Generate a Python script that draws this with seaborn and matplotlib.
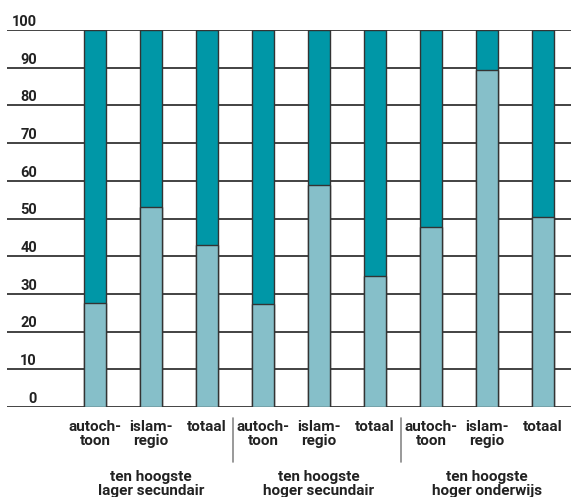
import matplotlib
matplotlib.use("Agg")
import matplotlib.pyplot as plt
import seaborn as sns
import pandas as pd
from matplotlib import font_manager as fm
from matplotlib.transforms import blended_transform_factory

categories = ["autoch-\ntoon", "islam-\nregio", "totaal"] * 3
groups = ["ten hoogste\nlager secundair", "ten hoogste\nhoger secundair", "ten hoogste\nhoger onderwijs"]
light_values = [27.5, 53.0, 43.0, 27.3, 58.9, 34.7, 47.7, 89.4, 50.4]
total_values = [100] * 9
yticks = [0, 10, 20, 30, 40, 50, 60, 70, 80, 90, 100]

DARK = "#0097A7"
LIGHT = "#86BFC9"

sns.set_style("white")
names = {f.name for f in fm.fontManager.ttflist}
fam = "Liberation Sans Narrow" if "Liberation Sans Narrow" in names else "Roboto"
plt.rcParams["font.family"] = [fam, "DejaVu Sans"]
plt.rcParams["font.weight"] = "bold"

fig = plt.figure(figsize=(5.71, 4.97), dpi=100)
ax = fig.add_axes([7 / 571, 1 - 407 / 497, 1 - 7 / 571, (407 - 30) / 497])

df = pd.DataFrame({"pos": list(range(9)), "total": total_values, "light": light_values})
sns.barplot(data=df, x="pos", y="total", color=DARK, width=0.39, saturation=1,
            edgecolor="#333333", linewidth=1.0, ax=ax, zorder=3, native_scale=True)
sns.barplot(data=df, x="pos", y="light", color=LIGHT, width=0.39, saturation=1,
            edgecolor="#333333", linewidth=1.0, ax=ax, zorder=4, native_scale=True)

ax.set_xlim(-88 / 56, 8.5)
ax.set_ylim(0, 100)
for v in yticks:
    ax.axhline(v, color="#222222", lw=1.2, zorder=1)
for s in ax.spines.values():
    s.set_visible(False)
ax.set_xticks([])
ax.set_yticks([])
ax.set_xlabel("")
ax.set_ylabel("")

# y tick labels above the gridlines
tr = blended_transform_factory(fig.transFigure, ax.transData)
for v in yticks:
    ax.text(37 / 571, v + 1.1, str(v), transform=tr, ha="right", va="baseline",
            fontsize=10.5, fontweight="bold", color="#222222")

# category labels
for i, c in enumerate(categories):
    ax.text(i, -3.5, c, ha="center", va="top", fontsize=11, fontweight="bold",
            color="#222222", linespacing=1.0, clip_on=False)

# group labels
for g, lab in enumerate(groups):
    ax.text(g * 3 + 1, -16.8, lab, ha="center", va="top", fontsize=11,
            fontweight="bold", color="#222222", linespacing=0.95, clip_on=False)

# separators
for xs in [2.5, 5.5]:
    ax.plot([xs - 0.03, xs - 0.03], [-3.0, -14.5], color="#888888", lw=1.2, clip_on=False)

fig.savefig("out.png", dpi=100)
